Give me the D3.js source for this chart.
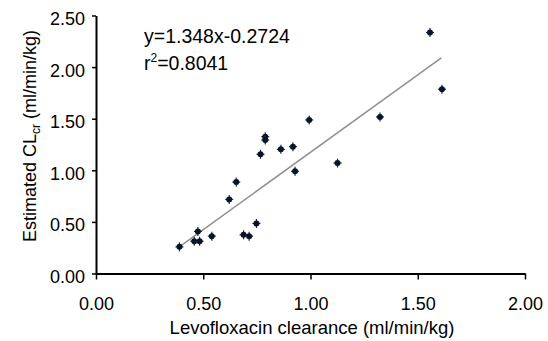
<!DOCTYPE html>
<html>
<head>
<meta charset="utf-8">
<script src="https://cdn.jsdelivr.net/npm/d3@7"></script>
<style>
  body { margin: 0; background: #fff; }
  svg { display: block; font-family: "Liberation Sans", Arial, sans-serif; }
  .axis .domain { stroke: #000; stroke-width: 2; }
  .axis .tick line { stroke: #000; stroke-width: 1.5; }
  .axis .tick text { font-size: 18px; fill: #000; }
</style>
</head>
<body>
<script>
// levofloxacin clearance (x) vs estimated CLcr (y), ml/min/kg
let clearance = [0.389, 0.458, 0.483, 0.475, 0.540, 0.621, 0.654, 0.688, 0.714, 0.748,
                 0.767, 0.789, 0.789, 0.862, 0.918, 0.928, 0.994, 1.126, 1.324, 1.557, 1.613];
let estCLcr   = [0.258, 0.313, 0.313, 0.408, 0.362, 0.718, 0.886, 0.375, 0.362, 0.485,
                 1.155, 1.326, 1.294, 1.203, 1.229, 0.990, 1.488, 1.070, 1.517, 2.335, 1.786];

// fitted line as drawn (end points)
let fitX = [0.39, 1.61];
let fitY = [0.26, 2.09];

let xTicks = [0, 0.5, 1, 1.5, 2];
let yTicks = [0, 0.5, 1, 1.5, 2, 2.5];

let equation = "y=1.348x-0.2724";
let rSquared = "0.8041";

let width = 548, height = 341;
let margin = {top: 15.5, right: 23, bottom: 67.5, left: 96};

let xScale = d3.scaleLinear()
  .domain([0, 2])
  .range([margin.left, width - margin.right]);

let yScale = d3.scaleLinear()
  .domain([0, 2.5])
  .range([height - margin.bottom, margin.top]);

let svg = d3.select("body").append("svg")
  .attr("width", width)
  .attr("height", height);

// x axis
svg.append("g")
  .attr("class", "x axis")
  .attr("transform", "translate(0," + yScale(0) + ")")
  .call(d3.axisBottom(xScale)
    .tickValues(xTicks)
    .tickFormat(d3.format(".2f"))
    .tickSize(6)
    .tickSizeOuter(0)
    .tickPadding(18));

// y axis
svg.append("g")
  .attr("class", "y axis")
  .attr("transform", "translate(" + xScale(0) + ",0)")
  .call(d3.axisLeft(yScale)
    .tickValues(yTicks)
    .tickFormat(d3.format(".2f"))
    .tickSize(4)
    .tickSizeOuter(0)
    .tickPadding(7))
  .selectAll(".tick text")
  .attr("dy", "0.5em");

// regression line
let line = d3.line()
  .x(function(d) { return xScale(d[0]); })
  .y(function(d) { return yScale(d[1]); });

svg.append("path")
  .datum(d3.zip(fitX, fitY))
  .attr("fill", "none")
  .attr("stroke", "#909090")
  .attr("stroke-width", 1.5)
  .attr("d", line);

// points
let points = d3.zip(clearance, estCLcr);

let dots = svg.selectAll(".dot")
  .data(points)
  .enter().append("g")
  .attr("class", "dot")
  .attr("transform", function(d) { return "translate(" + xScale(d[0]) + "," + yScale(d[1]) + ")"; });

dots.append("line")
  .attr("x1", -4).attr("x2", 4)
  .attr("stroke", "#1c2846").attr("stroke-width", 1.2);
dots.append("line")
  .attr("y1", -4.5).attr("y2", 4.5)
  .attr("stroke", "#1c2846").attr("stroke-width", 1.2);
dots.append("circle")
  .attr("r", 3)
  .attr("fill", "#0a1428");

// equation text
svg.append("text")
  .attr("x", 144)
  .attr("y", 42.5)
  .style("font-size", "19.5px")
  .text(equation);

let r2 = svg.append("text")
  .attr("x", 144)
  .attr("y", 70)
  .style("font-size", "19.5px");
r2.append("tspan").text("r");
r2.append("tspan").attr("dy", -8).style("font-size", "12px").text("2");
r2.append("tspan").attr("dy", 8).text("=" + rSquared);

// axis titles
svg.append("text")
  .attr("x", 312)
  .attr("y", 334)
  .attr("text-anchor", "middle")
  .style("font-size", "18.5px")
  .text("Levofloxacin clearance (ml/min/kg)");

let yTitle = svg.append("text")
  .attr("transform", "translate(36,136) rotate(-90)")
  .attr("text-anchor", "middle")
  .style("font-size", "18px");
yTitle.append("tspan").text("Estimated CL");
yTitle.append("tspan").attr("dy", 4).style("font-size", "12px").text("cr");
yTitle.append("tspan").attr("dy", -4).text(" (ml/min/kg)");
</script>
</body>
</html>
